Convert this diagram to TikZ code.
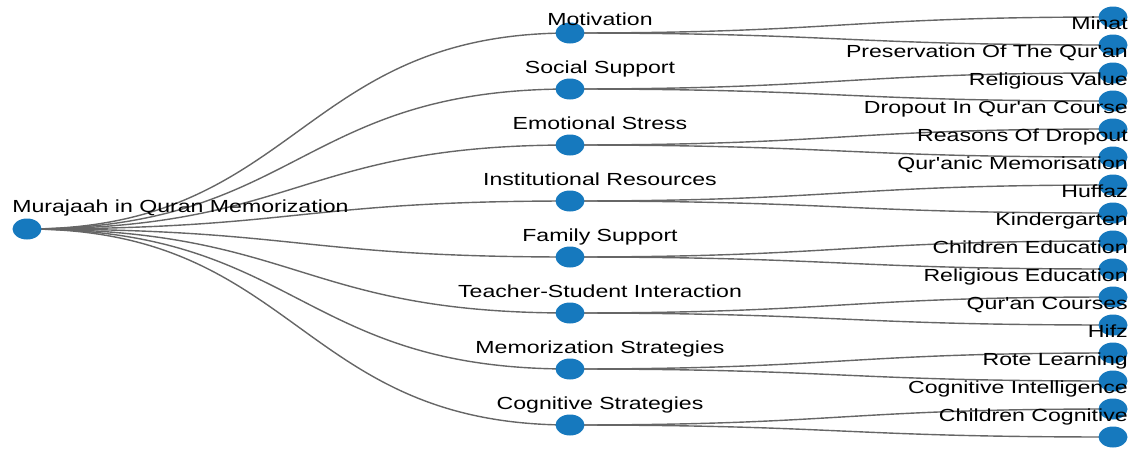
\documentclass[tikz,border=0pt]{standalone}
\usepackage{fontspec}
\setmainfont{Liberation Sans}
\usetikzlibrary{backgrounds}
\definecolor{nodeblue}{HTML}{1679BE}
\definecolor{linkgray}{HTML}{666666}
\tikzset{
  dot/.style={circle, fill=nodeblue, minimum size=21pt, inner sep=0pt, xscale=1.38},
  tag/.style={font=\fontsize{17.5}{20}\selectfont, text=black, inner sep=0pt, xscale=1.32},
  link/.style={draw=linkgray, line width=1.4pt}
}

\begin{document}
\begin{tikzpicture}[x=1pt,y=-1pt]
\useasboundingbox (0,0) rectangle (1136,448);
\coordinate (split1) at (298.5,0);
\coordinate (split2) at (841.5,0);

% root and themes
\node[dot] (root) at (27,229) {};
\node[dot] (motiv) at (570,33) {};
\node[dot] (social) at (570,89) {};
\node[dot] (stress) at (570,145) {};
\node[dot] (inst) at (570,201) {};
\node[dot] (family) at (570,257) {};
\node[dot] (teacher) at (570,313) {};
\node[dot] (memo) at (570,369) {};
\node[dot] (cogn) at (570,425) {};

% keywords
\foreach \i in {1,...,16}
  \node[dot] (leaf\i) at (1113,{17+28*(\i-1)}) {};

\begin{scope}[on background layer]
\foreach \m in {motiv,social,stress,inst,family,teacher,memo,cogn}
  \draw[link] (root.center) .. controls (root -| split1) and (\m -| split1) .. (\m.center);
\foreach \m/\a/\b in {motiv/1/2,social/3/4,stress/5/6,inst/7/8,family/9/10,teacher/11/12,memo/13/14,cogn/15/16} {
  \draw[link] (\m.center) .. controls (\m -| split2) and (leaf\a -| split2) .. (leaf\a.center);
  \draw[link] (\m.center) .. controls (\m -| split2) and (leaf\b -| split2) .. (leaf\b.center);
}
\end{scope}

\node[tag, anchor=base west] (root-lbl) at (12,212) {Murajaah in Quran Memorization};

\node[tag, anchor=base] (motiv-lbl) at (600,25) {Motivation};
\node[tag, anchor=base] (social-lbl) at (600,73) {Social Support};
\node[tag, anchor=base] (stress-lbl) at (600,129) {Emotional Stress};
\node[tag, anchor=base] (inst-lbl) at (600,185) {Institutional Resources};
\node[tag, anchor=base] (family-lbl) at (600,241) {Family Support};
\node[tag, anchor=base] (teacher-lbl) at (600,297) {Teacher-Student Interaction};
\node[tag, anchor=base] (memo-lbl) at (600,353) {Memorization Strategies};
\node[tag, anchor=base] (cogn-lbl) at (600,409) {Cognitive Strategies};

\foreach \k/\t in {1/Minat,2/Preservation Of The Qur\textquotesingle an,3/Religious Value,
  4/Dropout In Qur\textquotesingle an Course,5/Reasons Of Dropout,6/Qur\textquotesingle anic Memorisation,
  7/Huffaz,8/Kindergarten,9/Children Education,10/Religious Education,
  11/Qur\textquotesingle an Courses,12/Hifz,13/Rote Learning,14/Cognitive Intelligence,15/Children Cognitive}
  \node[tag, anchor=base east] (leaf-lbl\k) at (1128,{1+28*\k}) {\t};
\end{tikzpicture}
\end{document}
